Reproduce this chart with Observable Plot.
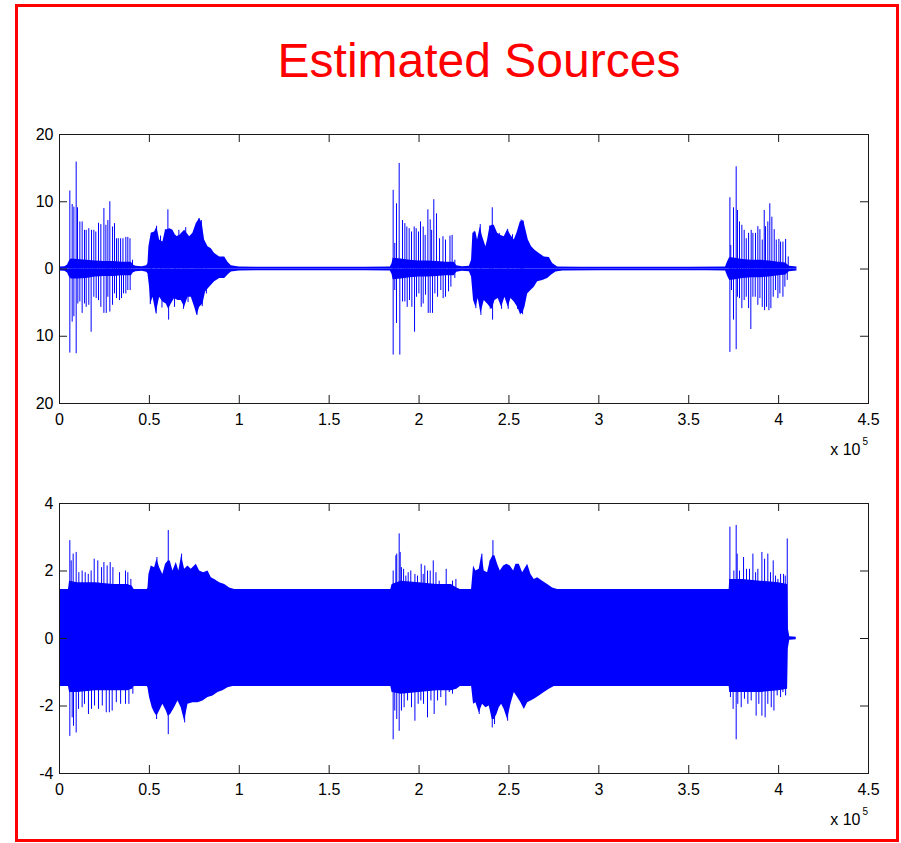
<!DOCTYPE html>
<html>
<head>
<meta charset="utf-8">
<script src="https://cdn.jsdelivr.net/npm/d3@7"></script>
<script src="https://cdn.jsdelivr.net/npm/@observablehq/plot@0.6"></script>
<style>
  html, body { margin: 0; padding: 0; background: white; overflow: hidden; }
  #page { position: relative; width: 901px; height: 843px; font-family: 'Liberation Sans', Arial, Helvetica, sans-serif; }
  #title { position: absolute; left: 79px; width: 800px; top: 37px; text-align: center; font-size: 48px; line-height: 48px; color: #ff0000; }
  #p1 { position: absolute; left: 0; top: 120px; }
  #p2 { position: absolute; left: 0; top: 490px; }
  #border { position: absolute; left: 15px; top: 4px; width: 884px; height: 838px; border: 3px solid #ff0000; box-sizing: border-box; pointer-events: none; }
</style>
</head>
<body>
<div id="page">
  <div id="title">Estimated Sources</div>
  <div id="p1"></div>
  <div id="p2"></div>
  <div id="border"></div>
</div>
<script>
// ---------- axis ticks ----------
const xTicks = [0, 50000, 100000, 150000, 200000, 250000, 300000, 350000, 400000, 450000];
const topYTicks = [-20, -10, 0, 10, 20];
const botYTicks = [-4, -2, 0, 2, 4];
const xExponentBase = "x 10";
const xExponent = "5";

// ---------- top panel: envelope (upper) ----------
const topUpX = [0,3000,4500,5500,6500,10000,15000,20000,25000,30000,35000,40000,41000,42500,46000,48500,
  49200,49740,51040,52900,54200,55700,57500,59000,61500,63100,64960,66800,69600,72400,74200,76100,77950,79400,80700,82600,84450,86300,89100,91900,93700,95600,100000,
  110000,130000,150000,170000,184000,
  185000,185600,190000,195000,200000,205000,210000,215000,219500,221000,224000,228000,
  229200,229950,231630,232550,234040,235340,237190,238120,239420,240720,241830,243690,245550,247400,249260,251110,252970,254450,256310,258170,259470,260770,262620,264480,266890,269670,272460,274310,277100,
  290000,310000,330000,350000,370500,
  371500,372800,376000,380000,385000,390000,395000,400000,404000,406000,410200];
const topUpY = [0.3,0.35,0.6,1.2,1.5,1.4,1.3,1.2,1.1,1.1,1.0,1.0,0.6,0.4,0.35,0.5,
  0.8,3.3,5.3,5.5,6.25,4.3,4.0,5.75,6.0,5.75,4.8,5.0,5.75,4.8,5.3,6.75,7.5,6.75,4.3,3.3,3.0,2.3,1.8,1.8,1.0,0.5,0.3,
  0.25,0.25,0.25,0.25,0.3,
  0.8,1.6,1.5,1.3,1.2,1.2,1.1,1.0,1.0,0.5,0.35,0.4,
  1.3,5.3,5.5,4.3,6.25,4.8,3.3,4.3,6.3,6.5,6.5,5.3,5.0,4.8,5.85,5.0,4.3,5.3,7.0,7.2,5.75,4.3,3.3,2.8,2.3,1.8,1.7,0.8,0.3,
  0.25,0.25,0.25,0.25,0.3,
  1.0,1.7,1.6,1.4,1.3,1.3,1.2,1.0,0.9,0.4,0.3];

// ---------- top panel: envelope (lower) ----------
const topLoX = [0,3000,4500,5500,6500,10000,15000,20000,25000,30000,35000,40000,41000,42500,46000,48500,
  49200,50100,50800,52000,53800,55700,57500,59400,60700,62200,64000,65900,67700,69600,71460,73300,75200,76500,77950,79800,81300,83500,86300,89100,91900,93700,95600,100000,
  110000,130000,150000,170000,184000,
  185000,185600,190000,195000,200000,205000,210000,215000,219500,221000,224000,228000,
  229200,230330,231630,232920,234410,236260,238120,239600,240720,242200,244050,245920,247770,249630,251110,252970,254830,256310,257610,258910,260400,262250,264100,265960,268740,271530,273760,276200,280000,
  300000,320000,340000,360000,370500,
  371500,372800,376000,380000,385000,390000,395000,400000,404000,406000,410200];
const topLoY = [-0.3,-0.35,-0.6,-1.2,-1.5,-1.5,-1.4,-1.2,-1.1,-1.1,-1.0,-1.0,-0.6,-0.4,-0.35,-0.5,
  -0.7,-2.7,-5.2,-4.2,-6.6,-4.2,-4.9,-5.2,-6.0,-5.2,-4.4,-4.7,-4.7,-5.7,-4.2,-4.2,-5.7,-6.9,-5.7,-5.2,-3.4,-2.7,-1.9,-1.4,-1.4,-0.9,-0.45,-0.3,
  -0.25,-0.25,-0.25,-0.25,-0.3,
  -0.8,-1.6,-1.5,-1.3,-1.2,-1.2,-1.1,-1.0,-1.0,-0.5,-0.35,-0.4,
  -1.2,-4.7,-5.7,-4.4,-6.6,-4.7,-5.2,-5.7,-6.0,-4.7,-4.4,-5.7,-4.2,-5.7,-4.4,-4.9,-5.7,-6.6,-6.6,-5.7,-3.7,-3.2,-2.7,-1.9,-1.7,-1.4,-0.9,-0.45,-0.3,
  -0.25,-0.25,-0.25,-0.25,-0.3,
  -1.0,-1.7,-1.6,-1.4,-1.3,-1.3,-1.2,-1.0,-0.9,-0.4,-0.3];

// ---------- top panel: spikes ----------
const topSpikeUpX = [5750,7050,8000,9280,10020,11320,12600,13900,14850,16300,17800,19100,20200,21700,23000,24700,25800,26900,28000,29500,30600,31700,32700,34000,35300,36900,38000,39200,40600,
  51200,54000,56200,58900,60300,64600,66400,70200,75200,77600,78900,
  185600,186500,187450,188940,190800,192100,193200,194500,195800,197300,198400,199700,200800,202300,203400,204900,206200,207000,208200,209700,211400,213300,214700,217200,218400,219900,
  230700,234040,239400,240720,244600,249300,252000,256800,258000,
  372900,373400,374900,376400,377100,378250,379550,380850,382000,383300,384750,385700,387150,388450,389600,390900,392000,392700,394000,395100,396250,397550,398700,400150,401100,402400,403900,405350];
const topSpikeUpY = [11.6,9.6,9.2,15.9,9.1,7.0,7.0,5.75,5.75,6.0,5.75,5.75,5.5,6.8,6.6,9.0,6.5,7.2,10.0,6.25,6.75,4.5,4.5,4.5,4.5,4.7,4.7,4.5,1.3,
  5.3,6.35,4.9,5.85,8.8,5.0,5.75,6.15,6.0,7.5,7.2,
  11.7,3.8,9.7,15.7,7.2,6.75,6.25,6.0,5.5,6.25,6.0,5.5,7.0,6.25,5.0,8.8,7.3,5.75,10.3,8.2,4.5,4.8,4.3,4.9,5.0,1.3,
  5.6,6.6,6.4,9.1,5.3,5.9,5.1,7.3,7.0,
  10.6,3.5,9.1,15.2,8.7,7.0,6.5,5.75,4.5,5.3,5.75,5.3,5.3,6.3,5.85,4.3,8.7,6.3,7.0,9.7,7.7,5.85,4.3,4.4,4.0,4.0,4.4,1.8];
const topSpikeDownX = [5750,7050,8000,9280,10200,11320,12600,13900,14850,16300,17600,19100,20400,21700,23000,24700,26000,26900,28000,29500,30600,31700,33400,34500,35600,36900,38000,39300,
  50500,53800,57000,60700,64000,69000,71500,76500,79400,81700,
  185600,186500,187450,189300,190800,192100,193400,194700,196000,197500,198600,199900,201200,202300,203600,205100,206200,207500,208800,210300,212100,213400,214700,216400,217700,219900,
  231600,234400,239600,240900,245900,249600,254800,256300,257600,
  372900,373800,374900,376400,377100,378250,379550,380850,382000,383300,384550,385700,387000,388450,389600,390900,392200,393300,394600,395700,397000,398300,399600,400700,402400,403500,404800];
const topSpikeDownY = [-12.5,-7.9,-7.1,-12.6,-5.2,-4.9,-6.6,-5.2,-5.7,-5.4,-9.4,-4.2,-4.4,-4.7,-5.7,-6.6,-6.6,-4.2,-6.4,-5.4,-3.7,-4.4,-4.7,-4.4,-3.7,-3.7,-3.2,-3.2,
  -5.3,-6.7,-5.8,-7.6,-5.7,-6.0,-5.0,-6.9,-5.6,-3.7,
  -12.8,-3.2,-8.1,-12.8,-4.9,-4.9,-5.7,-4.7,-5.7,-9.4,-4.2,-3.7,-5.7,-5.2,-3.9,-6.6,-6.6,-6.6,-3.7,-4.2,-3.2,-4.4,-4.2,-3.4,-2.7,-1.4,
  -5.9,-6.9,-6.0,-7.6,-6.0,-6.0,-6.0,-6.8,-6.8,
  -12.4,-3.2,-7.6,-12.0,-4.2,-4.4,-5.9,-4.7,-4.2,-5.9,-9.0,-4.2,-4.2,-5.4,-4.4,-5.7,-6.2,-5.7,-6.2,-5.9,-4.2,-3.2,-4.4,-3.7,-4.2,-2.7,-1.7];

// ---------- bottom panel: envelope (upper) ----------
const botUpX = [0,5000,5600,10000,20000,30000,38000,40500,41500,48800,
  49200,49740,51040,52900,54200,55700,57500,59000,60500,61600,63100,64960,66400,67900,69600,71460,73300,76100,77950,80200,82600,84450,86300,89100,91900,94650,97440,
  120000,150000,184300,
  185000,190000,200000,210000,218000,221000,223000,229000,
  229200,230330,231630,233480,234970,236260,238120,239600,241090,242200,243690,245180,247030,248890,250740,252600,253900,255750,257610,260400,262250,264100,265960,268750,271530,274310,277100,
  300000,340000,372500,
  372800,380000,390000,400000,405000,405400,406200,409800];
const botUpY = [1.45,1.45,1.7,1.65,1.65,1.6,1.6,1.55,1.45,1.45,
  1.5,1.9,2.15,2.1,2.35,2.1,1.9,2.2,2.3,2.3,2.0,2.25,2.0,2.45,2.05,2.15,2.05,2.2,2.0,1.95,2.0,1.8,1.75,1.65,1.6,1.5,1.45,
  1.45,1.45,1.45,
  1.6,1.7,1.65,1.6,1.6,1.5,1.45,1.45,
  1.45,2.15,2.0,2.05,2.5,2.0,1.95,2.3,2.45,2.45,2.2,2.0,2.15,2.2,2.15,2.0,2.2,2.2,1.95,2.2,1.9,1.75,1.8,1.7,1.6,1.5,1.45,
  1.45,1.45,1.45,
  1.75,1.75,1.7,1.65,1.6,0.3,0.05,0.04];

// ---------- bottom panel: envelope (lower) ----------
const botLoX = [0,5000,5600,10000,20000,30000,38000,40500,41500,48800,
  49200,50100,51600,52900,54200,55700,57500,59400,60500,61800,64000,65900,67700,69600,71460,74240,77000,79800,82600,85400,88160,90900,93700,96500,
  120000,150000,184300,
  185000,190000,200000,210000,218000,221000,223000,229000,
  229200,230330,231630,233480,235340,237190,239050,240720,241830,243310,244610,245920,247400,249260,251110,252970,254830,256680,258540,260400,262250,264100,266890,269670,272460,275240,
  300000,340000,372500,
  372800,380000,390000,400000,405000,405400,406200,409800];
const botLoY = [-1.42,-1.42,-1.6,-1.6,-1.55,-1.55,-1.55,-1.5,-1.42,-1.42,
  -1.46,-1.75,-2.05,-2.2,-2.3,-2.15,-1.95,-2.15,-2.3,-2.25,-2.05,-1.85,-2.05,-2.45,-1.95,-1.9,-1.9,-1.85,-1.75,-1.7,-1.6,-1.55,-1.46,-1.42,
  -1.42,-1.42,-1.42,
  -1.6,-1.65,-1.6,-1.55,-1.55,-1.5,-1.42,-1.42,
  -1.41,-1.95,-1.9,-2.2,-1.95,-2.05,-2.0,-2.4,-2.4,-2.25,-2.05,-1.95,-2.1,-2.4,-1.95,-1.6,-1.75,-1.9,-2.1,-1.9,-1.85,-1.8,-1.7,-1.6,-1.5,-1.42,
  -1.42,-1.42,-1.42,
  -1.6,-1.6,-1.6,-1.55,-1.5,-0.3,-0.05,-0.04];

// ---------- bottom panel: spikes ----------
const botSpikeUpX = [5750,6500,7600,9280,10760,12600,14300,16000,17600,19300,21300,23400,24700,26500,28200,29700,33400,36700,38000,39700,
  54200,60500,67900,
  185600,187100,187600,188940,189500,190200,191400,192650,193950,195400,197700,199150,201200,202300,203200,204700,206200,207900,209400,211200,215100,218600,220500,
  234970,239600,241090,
  372900,375100,376400,376950,378250,380500,382150,383800,385700,387200,388450,390700,392200,394000,395500,397000,398300,399600,401100,402750,403700,404800];
const botSpikeUpY = [2.9,2.3,2.5,2.55,1.95,2.0,1.95,1.9,2.0,2.35,2.3,2.1,2.25,2.15,2.25,2.1,1.95,2.0,1.95,1.75,
  2.4,3.2,2.5,
  2.0,2.45,2.5,3.1,2.55,2.1,2.05,1.85,1.95,2.0,1.9,1.85,2.2,1.9,2.15,2.0,2.0,2.3,1.95,1.7,2.05,1.7,1.75,
  2.5,2.3,2.9,
  3.3,2.0,3.35,2.5,2.0,2.4,2.05,2.05,2.5,1.95,2.05,2.55,2.35,2.5,1.95,2.3,1.85,1.75,1.9,1.9,1.85,2.95];
const botSpikeDownX = [5750,7050,7800,9280,10600,12600,13900,16100,17800,19500,21700,23800,26000,27700,29300,31600,34000,36700,38600,40800,
  54000,60500,69600,
  185600,186500,187600,188940,190200,191700,193600,195800,197700,199500,201000,202500,204700,206600,208400,210300,212100,214900,216800,218600,
  233480,240720,242000,249260,
  373200,374700,376400,377300,379200,381000,382900,384750,387500,389000,390700,392500,394000,395900,397400,399200,401100,402400,403900];
const botSpikeDownY = [-2.9,-2.35,-2.6,-2.8,-2.1,-2.05,-1.95,-2.25,-2.1,-2.0,-2.1,-2.0,-2.2,-2.2,-2.15,-1.9,-1.95,-1.95,-1.95,-1.65,
  -2.4,-2.85,-2.5,
  -3.0,-2.15,-2.4,-2.75,-2.15,-2.05,-1.85,-2.05,-2.45,-1.95,-1.85,-1.95,-2.35,-1.85,-2.25,-1.85,-1.75,-2.0,-1.6,-1.65,
  -2.25,-2.65,-2.55,-2.45,
  -1.75,-2.1,-3.0,-1.95,-2.05,-1.8,-1.95,-1.85,-2.3,-1.95,-2.3,-2.35,-1.95,-2.05,-2.15,-1.7,-1.75,-1.6,-1.7];

// ---------- helpers ----------
const zip = (xs, ys) => xs.map((x, i) => ({x, y: ys[i]}));
const BLUE = "#0000ff";
const FONT = "'Liberation Sans', Arial, Helvetica, sans-serif";

function panel({upX, upY, loX, loY, sUpX, sUpY, sDnX, sDnY, yDomain, yTicks, yFormat, marginTop}) {
  const width = 901, height = 343, marginLeft = 59, marginRight = 33, marginBottom = 60;
  const plotW = width - marginLeft - marginRight;
  const plotH = height - marginTop - marginBottom;
  const tickLen = 8;
  return Plot.plot({
    width, height, marginLeft, marginRight, marginTop, marginBottom,
    style: {fontFamily: FONT, fontSize: "16px", color: "black", background: "transparent", overflow: "visible"},
    x: {domain: [0, 450000]},
    y: {domain: yDomain},
    marks: [
      Plot.areaY(zip(upX, upY), {x: "x", y1: 0, y2: "y", fill: BLUE, curve: "linear"}),
      Plot.areaY(zip(loX, loY), {x: "x", y1: "y", y2: 0, fill: BLUE, curve: "linear"}),
      Plot.ruleX(zip(sUpX, sUpY), {x: "x", y1: 0, y2: "y", stroke: BLUE, strokeWidth: 1}),
      Plot.ruleX(zip(sDnX, sDnY), {x: "x", y1: "y", y2: 0, stroke: BLUE, strokeWidth: 1}),
      Plot.frame({stroke: "#1a1a1a", strokeWidth: 1}),
      Plot.tickX(xTicks, {x: d => d, insetTop: plotH - tickLen, stroke: "#1a1a1a"}),
      Plot.tickX(xTicks, {x: d => d, insetBottom: plotH - tickLen, stroke: "#1a1a1a"}),
      Plot.tickY(yTicks, {y: d => d, insetRight: plotW - tickLen, stroke: "#1a1a1a"}),
      Plot.tickY(yTicks, {y: d => d, insetLeft: plotW - tickLen, stroke: "#1a1a1a"}),
      Plot.axisX({ticks: xTicks, tickSize: 0, tickPadding: 10, tickFormat: d => String(d / 1e5), label: null, fontSize: 16}),
      Plot.axisY({ticks: yTicks, tickSize: 0, tickPadding: 6, tickFormat: yFormat, label: null, fontSize: 16}),
      Plot.text([xExponentBase], {text: d => d, frameAnchor: "bottom-right", textAnchor: "end", lineAnchor: "middle", dx: -8, dy: 46, fontSize: 16, fill: "black"}),
      Plot.text([xExponent], {text: d => d, frameAnchor: "bottom-right", textAnchor: "start", lineAnchor: "middle", dx: -6, dy: 38, fontSize: 10, fill: "black"})
    ]
  });
}

document.getElementById("p1").append(panel({
  upX: topUpX, upY: topUpY, loX: topLoX, loY: topLoY,
  sUpX: topSpikeUpX, sUpY: topSpikeUpY, sDnX: topSpikeDownX, sDnY: topSpikeDownY,
  yDomain: [-20, 20], yTicks: topYTicks, yFormat: d => String(Math.abs(d)), marginTop: 14
}));
document.getElementById("p2").append(panel({
  upX: botUpX, upY: botUpY, loX: botLoX, loY: botLoY,
  sUpX: botSpikeUpX, sUpY: botSpikeUpY, sDnX: botSpikeDownX, sDnY: botSpikeDownY,
  yDomain: [-4, 4], yTicks: botYTicks, yFormat: d => String(d), marginTop: 13
}));
</script>
</body>
</html>
